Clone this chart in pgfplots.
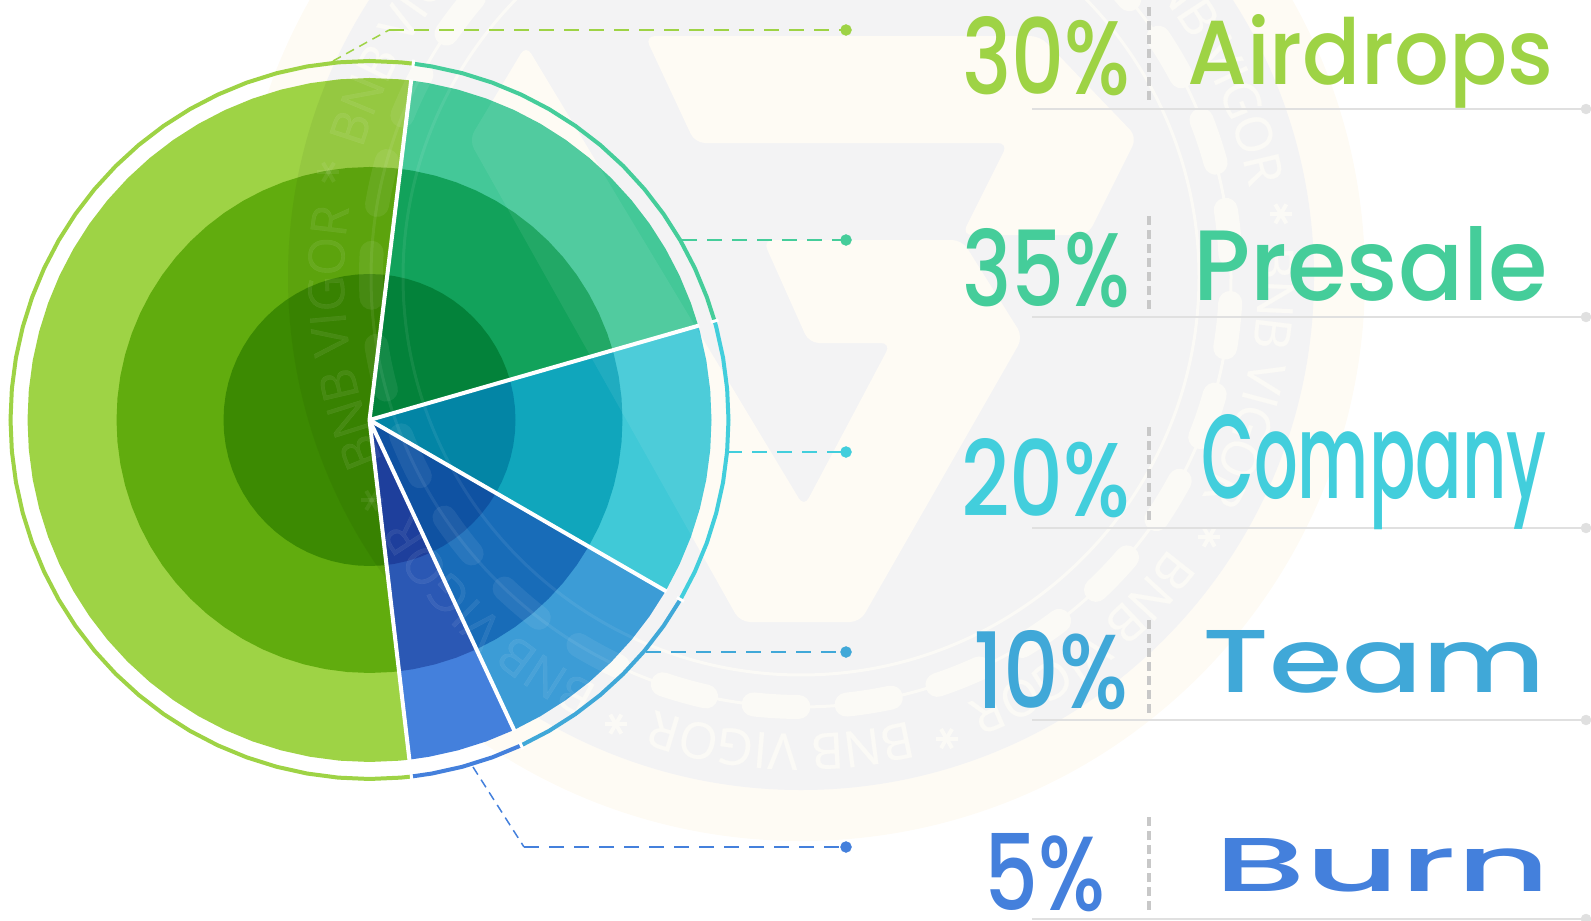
\documentclass[border=0pt]{standalone}
\usepackage{fontspec}
\setmainfont{Poppins Medium}
\newfontfamily\wmfont{Open Sans}[FakeBold=0.5]
\usepackage{graphicx}
\usepackage{pgfplots}
\usepackage{pgfplotstable}
\pgfplotsset{compat=1.18}
\usetikzlibrary{calc}

\definecolor{gO}{HTML}{9ED345}\definecolor{gM}{HTML}{61AC0E}\definecolor{gI}{HTML}{3C8A02}
\definecolor{tO}{HTML}{44C898}\definecolor{tM}{HTML}{12A25B}\definecolor{tI}{HTML}{03823A}
\definecolor{cO}{HTML}{40C9D7}\definecolor{cM}{HTML}{10A6BC}\definecolor{cI}{HTML}{0385A5}
\definecolor{bO}{HTML}{3C9CD6}\definecolor{bM}{HTML}{186CB8}\definecolor{bI}{HTML}{0F52A2}
\definecolor{dO}{HTML}{4480DC}\definecolor{dM}{HTML}{2B58B4}\definecolor{dI}{HTML}{1E3F9C}
\definecolor{rB}{HTML}{40A8D8}\definecolor{tT}{HTML}{45CD9A}\definecolor{cT}{HTML}{42CEDC}
\definecolor{wmY}{HTML}{FEFBF4}\definecolor{wmG}{HTML}{F3F3F4}\definecolor{wmL}{HTML}{FBFAF6}
\definecolor{ruleC}{HTML}{E0E0E0}\definecolor{diviC}{HTML}{C8C8C8}

% angle (degrees), then radii of outer / middle / inner sector and of the rim
\pgfplotstableread{
a o m i R
83 0 0 0 0
83 342 253 146 359
85 342 253 146 359
90 342 253 146 359
95 342 253 146 359
100 342 253 146 359
105 342 253 146 359
110 342 253 146 359
115 342 253 146 359
120 342 253 146 359
125 342 253 146 359
130 342 253 146 359
135 342 253 146 359
140 342 253 146 359
145 342 253 146 359
150 342 253 146 359
155 342 253 146 359
160 342 253 146 359
165 342 253 146 359
170 342 253 146 359
175 342 253 146 359
180 342 253 146 359
185 342 253 146 359
190 342 253 146 359
195 342 253 146 359
200 342 253 146 359
205 342 253 146 359
210 342 253 146 359
215 342 253 146 359
220 342 253 146 359
225 342 253 146 359
230 342 253 146 359
235 342 253 146 359
240 342 253 146 359
245 342 253 146 359
250 342 253 146 359
255 342 253 146 359
260 342 253 146 359
265 342 253 146 359
270 342 253 146 359
275 342 253 146 359
276.7 342 253 146 359
}\tabG
\pgfplotstableread{
a o m i R
16 0 0 0 0
16 342 253 146 359
20 342 253 146 359
25 342 253 146 359
30 342 253 146 359
35 342 253 146 359
40 342 253 146 359
45 342 253 146 359
50 342 253 146 359
55 342 253 146 359
60 342 253 146 359
65 342 253 146 359
70 342 253 146 359
75 342 253 146 359
80 342 253 146 359
83 342 253 146 359
}\tabT
\pgfplotstableread{
a o m i R
-30 0 0 0 0
-30 342 253 146 359
-25 342 253 146 359
-20 342 253 146 359
-15 342 253 146 359
-10 342 253 146 359
-5 342 253 146 359
0 342 253 146 359
5 342 253 146 359
10 342 253 146 359
15 342 253 146 359
16 342 253 146 359
}\tabC
\pgfplotstableread{
a o m i R
-65 0 0 0 0
-65 342 253 146 359
-60 342 253 146 359
-55 342 253 146 359
-50 342 253 146 359
-45 342 253 146 359
-40 342 253 146 359
-35 342 253 146 359
-30 342 253 146 359
}\tabB
\pgfplotstableread{
a o m i R
-83.3 0 0 0 0
-83.3 342 253 146 359
-80 342 253 146 359
-75 342 253 146 359
-70 342 253 146 359
-65 342 253 146 359
}\tabD

\pgfplotsset{
  px/.style={scale only axis,width=1591pt,height=921pt,hide axis,xmin=0,xmax=1591,ymin=0,ymax=921,y dir=reverse},
  pol/.style={scale only axis,width=1591pt,height=921pt,hide axis,xmin=-369.5,xmax=1221.5,ymin=-501,ymax=420},
}

% the watermark: logo, line, chain, ring of words
\newcommand\wmlogo[1]{%
  \fill[#1,rounded corners=10pt] (axis cs:645,36) -- (axis cs:1040,36) -- (axis cs:1137,137) -- (axis cs:1088,235) -- (axis cs:962,235) -- (axis cs:1008,143) -- (axis cs:695,143) -- cycle;
  \fill[#1,rounded corners=10pt] (axis cs:763,240) -- (axis cs:962,240) -- (axis cs:1023,337) -- (axis cs:860,622) -- (axis cs:740,622) -- (axis cs:469,140) -- (axis cs:526,45) -- (axis cs:804,507) -- (axis cs:891,343) -- (axis cs:809,343) -- cycle;
}
\newcommand\wmlines[1]{%
  \begin{scope}[shift={(801pt,644pt)}]
    \draw[#1,line width=3pt] (0,0) circle[radius=398pt];
    \draw[#1,line width=3pt] (0,0) circle[radius=430pt];
    \draw[#1,line width=24pt,line cap=round,dash pattern=on 45pt off 48.17pt,dash phase=70.7pt] (0,0) circle[radius=430pt];
  \end{scope}
}
\newcommand\wmwords[2]{%
  \begin{scope}[shift={(801pt,644pt)}]
    \foreach \wa in {#2}{
      \foreach \wl/\wo in {B/-14.2,N/-9.9,B/-5.7,V/-0.3,I/2.4,G/5.5,O/10.0,R/14.3}{
        \pgfmathsetmacro\wang{\wa-\wo}
        \node[anchor=base,inner sep=0pt,text=#1,rotate=\wang-90] at (\wang:457pt) {\wmfont\fontsize{50}{50}\selectfont\wl};
      }
      \foreach \ws in {0,60,120}{
        \draw[#1,line width=4pt] ($(\wa-20:484pt)+(\ws:11pt)$) -- ($(\wa-20:484pt)+(\ws+180:11pt)$);
      }
    }
  \end{scope}
}

\newcommand\lab[6]{\node[anchor=base west,inner sep=0pt,text=#6] at (axis cs:#2,#3) {\resizebox{#4pt}{#5pt}{#1}};}
\newcommand\leaderline[3]{%
  \addplot[color=#3,line width=2pt,dash pattern=on 15pt off 10pt,forget plot] coordinates {(#1,#2) (846,#2)};
  \addplot[color=#3,only marks,mark=*,mark size=5.5pt,mark options={draw=#3,fill=#3},forget plot] coordinates {(846,#2)};
}
\newcommand\rowline[1]{%
  \addplot[color=ruleC,line width=2pt,forget plot] coordinates {(1032,#1) (1586,#1)};
  \addplot[only marks,mark=*,mark size=5pt,mark options={draw=ruleC,fill=ruleC},forget plot] coordinates {(1586,#1)};
}
\newcommand\divider[2]{\addplot[color=diviC,line width=4pt,dash pattern=on 9pt off 5pt,forget plot] coordinates {(1149,#1) (1149,#2)};}

\begin{document}
\begin{tikzpicture}
\path[use as bounding box] (0,0) rectangle (1591pt,921pt);

% background watermark
\begin{axis}[px]
  \fill[wmY] (axis cs:801,277) circle[radius=564pt];
  \fill[wmG] (axis cs:801,277) circle[radius=513pt];
  \wmlogo{wmY}
\end{axis}
\begin{scope}
  \clip (0,0) rectangle (1591pt,921pt);
  \wmlines{wmL}
  \wmwords{wmL}{27.5,147.5,187.5,227.5,267.5,307.5,347.5}
\end{scope}

% leaders, row rules
\begin{axis}[px]
  \leaderline{389}{30}{gO}
  \addplot[color=gO,line width=1.5pt,dash pattern=on 9pt off 6pt,forget plot] coordinates {(333,61) (389,30)};
  \leaderline{682}{240}{tT}
  \leaderline{727}{452}{cT}
  \leaderline{646}{652}{rB}
  \leaderline{524}{847}{dO}
  \addplot[color=dO,line width=1.5pt,dash pattern=on 9pt off 6pt,forget plot] coordinates {(473,767) (524,847)};
  \rowline{109}\rowline{317}\rowline{528}\rowline{720}\rowline{919}
  \divider{7}{102}\divider{216}{311}\divider{427}{522}\divider{620}{715}\divider{817}{912}
\end{axis}

% the sectors
\begin{axis}[pol]
  \addplot[fill=gO,draw=none,data cs=polar,forget plot] table[x=a,y=o] {\tabG} --cycle;
  \addplot[fill=gM,draw=none,data cs=polar,forget plot] table[x=a,y=m] {\tabG} --cycle;
  \addplot[fill=gI,draw=none,data cs=polar,forget plot] table[x=a,y=i] {\tabG} --cycle;
  \begin{scope}
    \clip (axis cs:0,0) circle[radius=341.5pt];
    \fill[black,opacity=.05] (axis cs:431.5,143) circle[radius=513pt];
  \end{scope}
  \addplot[fill=tO,draw=none,data cs=polar,forget plot] table[x=a,y=o] {\tabT} --cycle;
  \addplot[fill=tM,draw=none,data cs=polar,forget plot] table[x=a,y=m] {\tabT} --cycle;
  \addplot[fill=tI,draw=none,data cs=polar,forget plot] table[x=a,y=i] {\tabT} --cycle;
  \addplot[fill=cO,draw=none,data cs=polar,forget plot] table[x=a,y=o] {\tabC} --cycle;
  \addplot[fill=cM,draw=none,data cs=polar,forget plot] table[x=a,y=m] {\tabC} --cycle;
  \addplot[fill=cI,draw=none,data cs=polar,forget plot] table[x=a,y=i] {\tabC} --cycle;
  \addplot[fill=bO,draw=none,data cs=polar,forget plot] table[x=a,y=o] {\tabB} --cycle;
  \addplot[fill=bM,draw=none,data cs=polar,forget plot] table[x=a,y=m] {\tabB} --cycle;
  \addplot[fill=bI,draw=none,data cs=polar,forget plot] table[x=a,y=i] {\tabB} --cycle;
  \addplot[fill=dO,draw=none,data cs=polar,forget plot] table[x=a,y=o] {\tabD} --cycle;
  \addplot[fill=dM,draw=none,data cs=polar,forget plot] table[x=a,y=m] {\tabD} --cycle;
  \addplot[fill=dI,draw=none,data cs=polar,forget plot] table[x=a,y=i] {\tabD} --cycle;
\end{axis}

% watermark shining through the sectors
\begin{scope}
  \clip (369.5pt,501pt) circle[radius=341.5pt];
  \begin{axis}[px]
    \begin{scope}[opacity=.07]
      \wmlogo{white}
    \end{scope}
  \end{axis}
  \begin{scope}[opacity=.07]
    \wmlines{white}
    \wmwords{white}{147.5,187.5,227.5,267.5}
  \end{scope}
\end{scope}

% labels
\begin{axis}[px]
  \lab{30\%}{962}{94}{168}{78}{gO}
  \lab{35\%}{962}{306}{168}{78}{tT}
  \lab{20\%}{961}{516}{169}{78}{cT}
  \lab{10\%}{973}{708}{155}{78}{rB}
  \lab{5\%}{984}{910}{121}{77}{dO}
  \lab{Airdrops}{1187}{84}{366}{70}{gO}
  \lab{Presale}{1193}{300}{355}{74}{tT}
  \lab{Company}{1201}{498}{345}{84}{cT}
  \lab{Team}{1202}{692}{344}{62}{rB}
  \lab{Burn}{1214}{891}{336}{53}{dO}
\end{axis}

% rim arcs and white separators
\begin{axis}[pol]
  \addplot[color=gO,line width=4pt,data cs=polar,skip coords between index={0}{1},forget plot] table[x=a,y=R] {\tabG};
  \addplot[color=tT,line width=4pt,data cs=polar,skip coords between index={0}{1},forget plot] table[x=a,y=R] {\tabT};
  \addplot[color=cT,line width=4pt,data cs=polar,skip coords between index={0}{1},forget plot] table[x=a,y=R] {\tabC};
  \addplot[color=rB,line width=4pt,data cs=polar,skip coords between index={0}{1},forget plot] table[x=a,y=R] {\tabB};
  \addplot[color=dO,line width=4pt,data cs=polar,skip coords between index={0}{1},forget plot] table[x=a,y=R] {\tabD};
  \addplot[color=white,line width=4pt,data cs=polar,forget plot] coordinates {(83,0) (83,343)};
  \addplot[color=white,line width=4pt,data cs=polar,forget plot] coordinates {(16,0) (16,343)};
  \addplot[color=white,line width=4pt,data cs=polar,forget plot] coordinates {(-30,0) (-30,343)};
  \addplot[color=white,line width=4pt,data cs=polar,forget plot] coordinates {(-65,0) (-65,343)};
  \addplot[color=white,line width=4pt,data cs=polar,forget plot] coordinates {(-83.3,0) (-83.3,343)};
  \addplot[color=white,line width=3pt,data cs=polar,forget plot] coordinates {(83,355) (83,363)};
  \addplot[color=white,line width=3pt,data cs=polar,forget plot] coordinates {(16,355) (16,363)};
  \addplot[color=white,line width=3pt,data cs=polar,forget plot] coordinates {(-30,355) (-30,363)};
  \addplot[color=white,line width=3pt,data cs=polar,forget plot] coordinates {(-65,355) (-65,363)};
  \addplot[color=white,line width=3pt,data cs=polar,forget plot] coordinates {(-83.3,355) (-83.3,363)};
\end{axis}
\end{tikzpicture}
\end{document}
